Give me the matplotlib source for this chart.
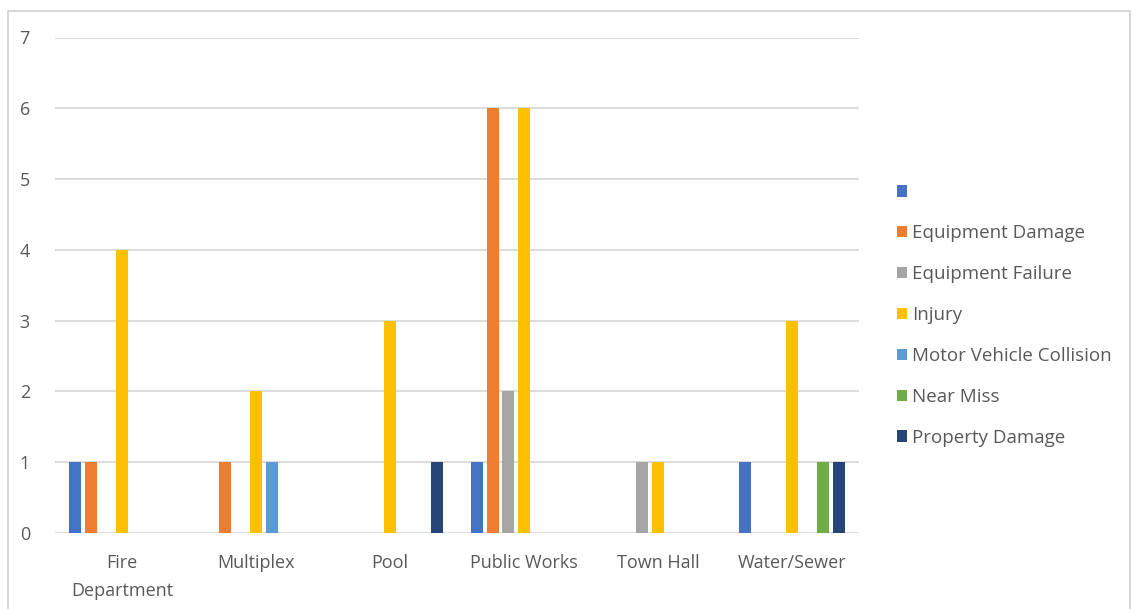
import matplotlib
matplotlib.use("Agg")
import matplotlib.pyplot as plt
from matplotlib.patches import Patch, Rectangle
import numpy as np

plt.rcParams['font.family'] = ['Open Sans', 'DejaVu Sans']

categories = ["Fire\nDepartment", "Multiplex", "Pool", "Public Works", "Town Hall", "Water/Sewer"]
series_names = ["", "Equipment Damage", "Equipment Failure", "Injury",
                "Motor Vehicle Collision", "Near Miss", "Property Damage"]
blank            = [1, 0, 0, 1, 0, 1]
equipment_damage = [1, 1, 0, 6, 0, 0]
equipment_fail   = [0, 0, 0, 2, 1, 0]
injury           = [4, 2, 3, 6, 1, 3]
motor_vehicle    = [0, 1, 0, 0, 0, 0]
near_miss        = [0, 0, 0, 0, 0, 1]
property_damage  = [0, 0, 1, 0, 0, 1]
series_values = [blank, equipment_damage, equipment_fail, injury,
                 motor_vehicle, near_miss, property_damage]
colors = ["#4472C4", "#ED7D31", "#A5A5A5", "#FFC000", "#5B9BD5", "#70AD47", "#264478"]

W, H = 1133, 609
fig = plt.figure(figsize=(W / 100, H / 100), dpi=100)
fig.patch.set_facecolor("white")

# thin chart-area frame
fig.patches.append(Rectangle((8 / W, -0.05), (1130 - 8) / W, (H - 11) / H + 0.05,
                             transform=fig.transFigure, fill=False,
                             edgecolor="#D0D0D0", linewidth=1.2))

ax = fig.add_axes([55 / W, (H - 533) / H, (859 - 55) / W, (533 - 37.5) / H])

x = np.arange(len(categories))
slot = 0.116
bar_w = 0.09
n = len(series_names)
for i, (vals, c) in enumerate(zip(series_values, colors)):
    ax.bar(x + (i - (n - 1) / 2) * slot, vals, width=bar_w, color=c, zorder=3)

ax.set_xlim(-0.5, len(categories) - 0.5)
ax.set_ylim(0, 7)
ax.set_yticks(range(0, 8))
ax.yaxis.grid(True, color="#D9D9D9", linewidth=1.3, zorder=0)
for s in ax.spines.values():
    s.set_visible(False)
ax.tick_params(axis="both", length=0, colors="#595959", labelsize=13)
ax.tick_params(axis="y", pad=18)
ax.tick_params(axis="x", pad=15)
ax.set_xticks(x)
ax.set_xticklabels(categories, linespacing=1.75)

handles = [Patch(facecolor=c, edgecolor="none") for c in colors]
leg = fig.legend(handles, series_names, loc="upper left",
                 bbox_to_anchor=(889 / W, 1 - 176 / H), frameon=False,
                 fontsize=13.5, handlelength=0.55, handleheight=0.55,
                 handletextpad=0.3, labelspacing=1.22, borderaxespad=0)
for t in leg.get_texts():
    t.set_color("#595959")

fig.savefig("out.png", dpi=100)
